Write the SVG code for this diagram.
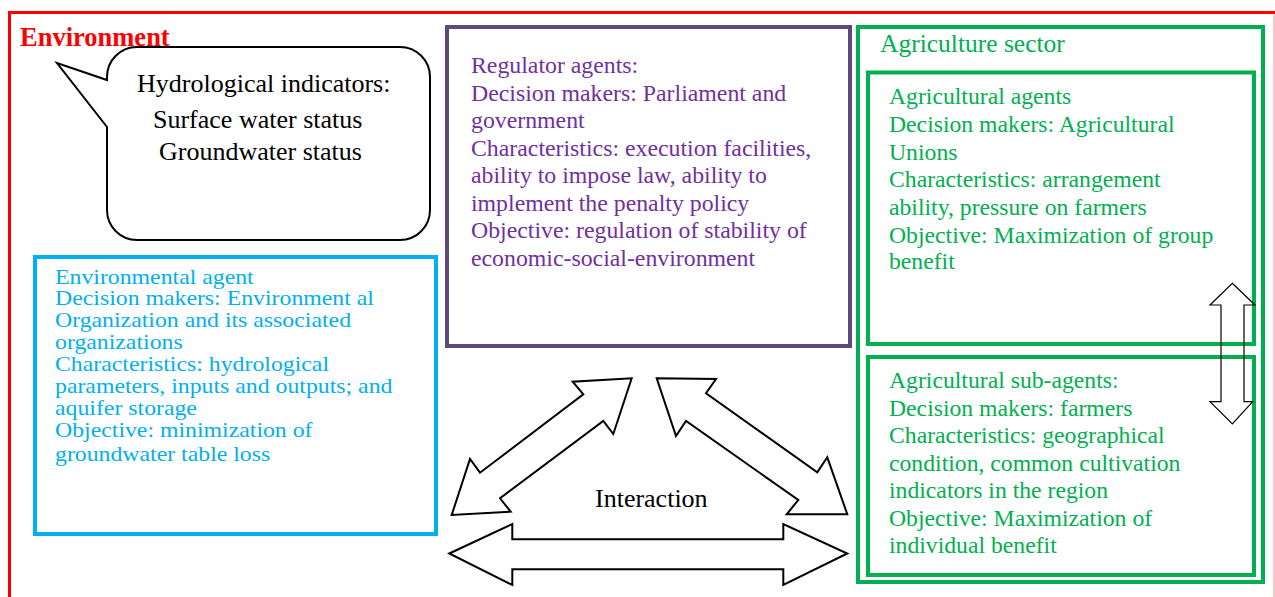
<svg xmlns="http://www.w3.org/2000/svg" width="1275" height="597" viewBox="0 0 1275 597">
<style>
text{font-family:"Liberation Serif","Times New Roman",serif}
.env{fill:#FF0000;font-weight:bold;font-size:26.5px}
.call{fill:#000;font-size:26px}
.blue{fill:#00B0F0;font-size:21.5px}
.purple{fill:#7030A0;font-size:23.8px}
.green{fill:#00B050;font-size:23.7px}
.gbox{fill:none;stroke:#00B050;stroke-width:4}
.arrow{fill:#fff;stroke:#000;stroke-width:2;stroke-linejoin:miter}
</style>
<rect width="1275" height="597" fill="#fff"/>
<g id="environment">
<path d="M9.5,600 V12.5 H1275" fill="none" stroke="#FF0000" stroke-width="3"/>
<line x1="1274" y1="14" x2="1274" y2="597" stroke="#FF9999" stroke-width="1"/>
<text class="env" x="20" y="46">Environment</text>
</g>
<g id="hydro-callout">
<path d="M137,47 H400 A30,30 0 0 1 430,77 V210 A30,30 0 0 1 400,240 H137 A30,30 0 0 1 107,210 V127 L57,63 L107,80 V77 A30,30 0 0 1 137,47 Z" fill="#fff" stroke="#000" stroke-width="2"/>
<text class="call" x="137" y="92">Hydrological indicators:</text>
<text class="call" x="153" y="128">Surface water status</text>
<text class="call" x="159" y="160">Groundwater status</text>
</g>
<g id="environmental-agent">
<rect x="35" y="257" width="401" height="277" fill="#fff" stroke="#00B0F0" stroke-width="4"/>
<g transform="translate(55,0) scale(1.107,1)">
<text class="blue" x="0" y="284">Environmental agent</text>
<text class="blue" x="0" y="305">Decision makers: Environment al</text>
<text class="blue" x="0" y="327">Organization and its associated</text>
<text class="blue" x="0" y="349">organizations</text>
<text class="blue" x="0" y="371">Characteristics: hydrological</text>
<text class="blue" x="0" y="393">parameters, inputs and outputs; and</text>
<text class="blue" x="0" y="415">aquifer storage</text>
<text class="blue" x="0" y="437">Objective: minimization of</text>
<text class="blue" x="0" y="461">groundwater table loss</text>
</g>
</g>
<g id="regulator-agents">
<rect x="447" y="27" width="403" height="319" fill="#fff" stroke="#5F497A" stroke-width="4"/>
<text class="purple" x="471" y="73">Regulator agents:</text>
<text class="purple" x="471" y="101">Decision makers: Parliament and</text>
<text class="purple" x="471" y="128">government</text>
<text class="purple" x="471" y="156">Characteristics: execution facilities,</text>
<text class="purple" x="471" y="183">ability to impose law, ability to</text>
<text class="purple" x="471" y="211">implement the penalty policy</text>
<text class="purple" x="471" y="238">Objective: regulation of stability of</text>
<text class="purple" x="471" y="266">economic-social-environment</text>
</g>
<g id="agriculture-sector">
<rect class="gbox" x="858" y="27" width="405" height="555"/>
<text class="green" x="880" y="52" style="font-size:25.5px">Agriculture sector</text>
</g>
<g id="agricultural-agents">
<rect class="gbox" x="868" y="72.5" width="386" height="271.5"/>
<text class="green" x="889" y="104">Agricultural agents</text>
<text class="green" x="889" y="132">Decision makers: Agricultural</text>
<text class="green" x="889" y="160">Unions</text>
<text class="green" x="889" y="187">Characteristics: arrangement</text>
<text class="green" x="889" y="215">ability, pressure on farmers</text>
<text class="green" x="889" y="243">Objective: Maximization of group</text>
<text class="green" x="889" y="269">benefit</text>
</g>
<g id="agricultural-sub-agents">
<rect class="gbox" x="868" y="357" width="386" height="218"/>
<text class="green" x="889" y="388">Agricultural sub-agents:</text>
<text class="green" x="889" y="416">Decision makers: farmers</text>
<text class="green" x="889" y="443">Characteristics: geographical</text>
<text class="green" x="889" y="471">condition, common cultivation</text>
<text class="green" x="889" y="498">indicators in the region</text>
<text class="green" x="889" y="526">Objective: Maximization of</text>
<text class="green" x="889" y="553">individual benefit</text>
</g>
<g id="interaction">
<text class="call" x="595" y="507">Interaction</text>
</g>
<g id="connectors">
<polygon class="arrow" points="631.7,378.3 613.3,434 603.3,421 500,498.3 510.7,511.7 451.7,515 470,459 480,472.7 583.3,394.3 572.7,381.7"/>
<polygon class="arrow" points="656.7,378.3 716,379 706,393.3 817.3,472.3 827.3,457.3 847.3,514.3 786.7,514.3 798.3,500 686,421 676,436"/>
<polygon class="arrow" points="449.3,553.5 512.3,524 512.3,539.3 783.3,539.3 783.3,524 847.3,553.5 783.3,585 783.3,569.3 512.3,569.3 512.3,585"/>
<polygon points="1232.3,283.3 1255,305 1244,305 1244,401.7 1252.7,401.7 1232.3,424 1210,401.7 1221,401.7 1221,305 1210,305" fill="none" stroke="#000" stroke-width="1.2"/>
</g>
</svg>
